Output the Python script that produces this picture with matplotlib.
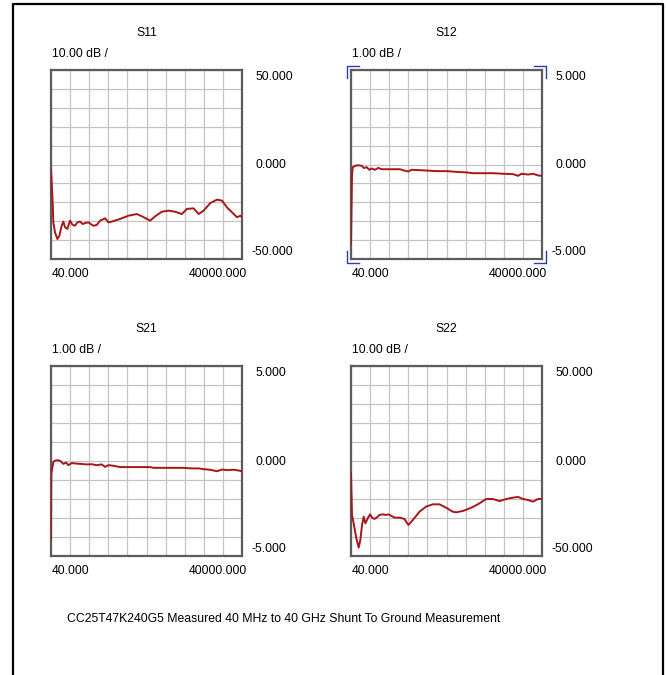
import matplotlib
matplotlib.use("Agg")
import matplotlib.pyplot as plt
from matplotlib.lines import Line2D
import numpy as np

W, H = 667, 675

# ---------- data (frequency in MHz, magnitude in dB) ----------
s11_freq = [40, 389, 529, 878, 1367, 1787, 2276, 2625, 2974, 3463, 4022, 4511, 5070,
            5559, 6118, 6677, 7166, 7864, 8353, 8912, 9611, 10310, 11358, 12056,
            12755, 14501, 16248, 17994, 19042, 20090, 20788, 21836, 23234, 24631,
            26028, 27425, 28473, 29870, 30918, 31966, 33363, 34760, 35808, 36856,
            37904, 38952, 39650, 40000]
s11_db = [-2.4, -20.0, -30.6, -35.9, -39.4, -37.7, -32.4, -30.2, -33.2, -34.1, -29.7,
          -31.8, -32.4, -30.6, -30.2, -31.5, -31.0, -30.6, -31.5, -32.4, -32.0, -29.7,
          -28.5, -30.6, -30.2, -28.8, -27.1, -26.2, -27.4, -28.8, -29.7, -27.4, -25.0,
          -24.4, -25.0, -26.2, -23.5, -23.2, -26.2, -24.4, -20.4, -18.6, -19.1, -22.7,
          -25.3, -27.9, -27.1, -27.9]

s12_freq = [40, 250, 390, 875, 1572, 2268, 2755, 3312, 3869, 4356, 5053, 5749, 6445,
            7489, 8882, 10274, 11318, 12014, 12711, 14451, 17932, 20021, 22110, 24198,
            25591, 27679, 29768, 31857, 33945, 34990, 35686, 37078, 38123, 39167, 40000]
s12_db = [-4.2, -0.6, -0.15, -0.07, -0.04, -0.07, -0.19, -0.14, -0.28, -0.21, -0.28,
          -0.18, -0.25, -0.25, -0.25, -0.25, -0.33, -0.37, -0.28, -0.30, -0.35, -0.35,
          -0.39, -0.42, -0.46, -0.46, -0.46, -0.49, -0.51, -0.60, -0.49, -0.53, -0.49,
          -0.58, -0.60]

s21_freq = [40, 110, 529, 1018, 1577, 2066, 2625, 3184, 3673, 4371, 5070, 6118, 7515,
            8563, 9611, 10659, 11358, 12056, 13104, 14501, 17296, 20789, 21487, 24281,
            27774, 29521, 30918, 31966, 33363, 34760, 35808, 36856, 38253, 39301, 40000]
s21_db = [-4.1, -0.66, -0.04, 0.03, 0.04, -0.01, -0.15, -0.08, -0.22, -0.11, -0.13,
          -0.15, -0.18, -0.17, -0.22, -0.18, -0.31, -0.22, -0.25, -0.32, -0.32, -0.32,
          -0.36, -0.36, -0.36, -0.39, -0.39, -0.43, -0.46, -0.54, -0.45, -0.48, -0.46,
          -0.50, -0.54]

s22_freq = [40, 250, 529, 1088, 1647, 1996, 2345, 2695, 3044, 3533, 4022, 4441, 4930,
            5419, 5978, 6677, 7375, 7934, 8423, 9122, 10170, 11218, 12056, 12964, 14361,
            15759, 17156, 18553, 19950, 21347, 22046, 23443, 25190, 26587, 28333, 29731,
            31128, 32525, 33922, 34970, 36018, 37066, 38114, 39162, 40000]
s22_db = [-6.5, -28.4, -31.9, -39.8, -45.6, -41.6, -33.7, -29.3, -32.8, -30.2, -28.1,
          -29.8, -30.5, -29.8, -28.4, -28.1, -28.4, -28.1, -28.8, -29.8, -29.8, -30.5,
          -33.7, -31.1, -26.7, -24.0, -22.8, -22.8, -24.6, -26.7, -27.0, -26.3, -24.6,
          -22.8, -20.0, -20.0, -21.1, -20.0, -19.3, -18.9, -20.0, -20.5, -21.4, -20.0,
          -20.0]

titles = ["S11", "S12", "S21", "S22"]
scales = ["10.00 dB /", "1.00 dB /", "1.00 dB /", "10.00 dB /"]
ref_top = [50.0, 5.0, 5.0, 50.0]
start_label = "40.000"
stop_label = "40000.000"
footer = "CC25T47K240G5 Measured 40 MHz to 40 GHz Shunt To Ground Measurement"

traces = [(s11_freq, s11_db), (s12_freq, s12_db), (s21_freq, s21_db), (s22_freq, s22_db)]
# box pixel positions: left, top, right, bottom
boxes = [(51, 70, 242, 259), (351, 70, 542, 259),
         (51, 366, 242, 556), (351, 366, 542, 556)]

plt.rcParams["font.family"] = ["Liberation Sans", "DejaVu Sans"]
plt.rcParams["font.size"] = 8.8

fig = plt.figure(figsize=(W / 100, H / 100), dpi=100)
fig.patch.set_facecolor("white")


def fx(px):
    return px / W


def fy(py):
    return 1 - py / H


frame_col = "#5c5c5c"
grid_col = "#c4c4c4"
trace_col = "#a8161a"

for i, (fr, db) in enumerate(traces):
    l, t, r, b = boxes[i]
    ax = fig.add_axes([fx(l), fy(b), (r - l) / W, (b - t) / H])
    top = ref_top[i]
    ax.set_xlim(40, 40000)
    ax.set_ylim(-top, top)
    ax.set_xticks(np.linspace(40, 40000, 11))
    ax.set_yticks(np.linspace(-top, top, 11))
    ax.tick_params(length=0, labelbottom=False, labelleft=False)
    ax.grid(True, color=grid_col, lw=0.9)
    for sp in ax.spines.values():
        sp.set_color(frame_col)
        sp.set_linewidth(1.6)
    ax.plot(fr, db, color=trace_col, lw=1.4, zorder=3)

    cx = (l + r) / 2
    fig.text(fx(cx), fy(t - 37), titles[i], ha="center", va="center")
    fig.text(fx(l + 1), fy(t - 16), scales[i], ha="left", va="center")

    vals = [f"{top:.3f}", "0.000", f"{-top:.3f}"]
    fig.text(fx(r + 13), fy(t + 1), vals[0], ha="left", va="top")
    fig.text(fx(r + 13), fy((t + b) / 2 + 1), vals[1], ha="left", va="center")
    fig.text(fx(r + 9), fy(b - 1), vals[2], ha="left", va="bottom")
    fig.text(fx(l + 1), fy(b + 15), start_label, ha="left", va="center")
    fig.text(fx(r + 5), fy(b + 15), stop_label, ha="right", va="center")

    if i == 1:
        # active trace corner markers
        blue = "#2c3cb4"
        d, g = 12, 4
        for (px, py, sx, sy) in [(l - g, t - g, 1, 1), (r + g, t - g, -1, 1),
                                 (l - g, b + g, 1, -1), (r + g, b + g, -1, -1)]:
            fig.add_artist(Line2D([fx(px), fx(px), fx(px + sx * d)],
                                  [fy(py + sy * d), fy(py), fy(py)],
                                  transform=fig.transFigure, color=blue, lw=1.0))

fig.text(fx(67), fy(619), footer, ha="left", va="center")

# outer window frame
fig.add_artist(Line2D([fx(13), fx(13), fx(663), fx(663)],
                      [fy(680), fy(4), fy(4), fy(680)],
                      transform=fig.transFigure, color="black", lw=1.6))

fig.savefig("out.png", dpi=100, facecolor="white")
